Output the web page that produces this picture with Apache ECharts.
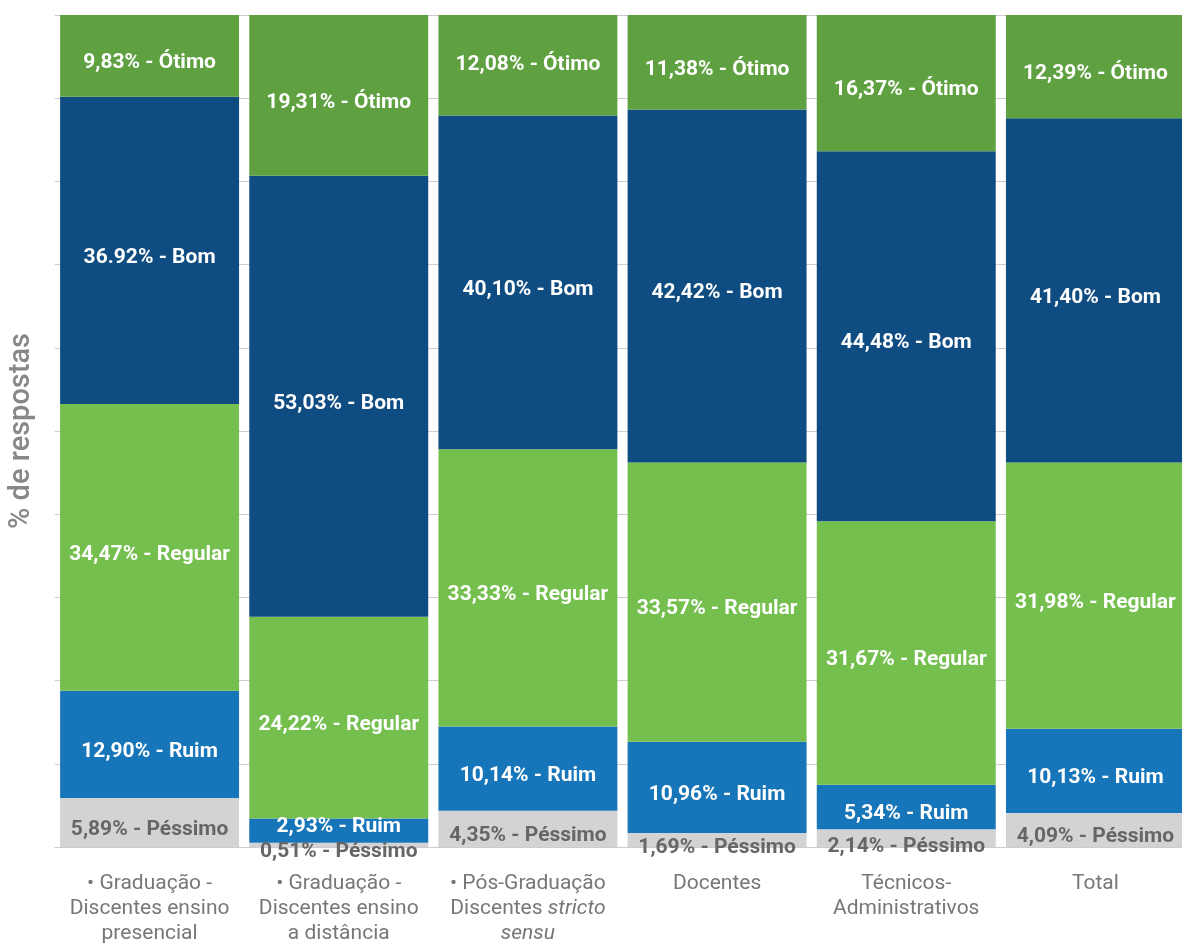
<!DOCTYPE html>
<html>
<head>
<meta charset="utf-8">
<script src="https://cdn.jsdelivr.net/npm/echarts@6/dist/echarts.min.js"></script>
<style>
  html, body { margin: 0; padding: 0; background: #fff; }
  #chart { width: 1182px; height: 943px; }
</style>
</head>
<body>
<div id="chart"></div>
<script>
// Avaliação por segmento (% de respostas)
const categories = [
  '• Graduação -\nDiscentes ensino\npresencial',
  '• Graduação -\nDiscentes ensino\na distância',
  '• Pós-Graduação\nDiscentes {i|stricto}\n{i|sensu}',
  'Docentes',
  'Técnicos-\nAdministrativos',
  'Total'
];
const pessimo = [5.89, 0.51, 4.35, 1.69, 2.14, 4.09];
const ruim    = [12.90, 2.93, 10.14, 10.96, 5.34, 10.13];
const regular = [34.47, 24.22, 33.33, 33.57, 31.67, 31.98];
const bom     = [36.92, 53.03, 40.10, 42.42, 44.48, 41.40];
const otimo   = [9.83, 19.31, 12.08, 11.38, 16.37, 12.39];
const yTicks  = [0, 10, 20, 30, 40, 50, 60, 70, 80, 90, 100];

// decimal separator used in each printed label (first "Bom" label is printed with a dot)
const bomSeparator = ['.', ',', ',', ',', ',', ','];

const FONT = 'Roboto';
const LABEL_SHIFT = 7;

function fmt(v, sep) {
  return v.toFixed(2).replace('.', sep || ',');
}

function makeSeries(name, values, color, labelColor, extraOffsets, seps) {
  return {
    name: name,
    type: 'bar',
    stack: 'total',
    barCategoryGap: '5.4%',
    itemStyle: { color: color },
    label: {
      show: true,
      position: 'inside',
      color: labelColor,
      fontFamily: FONT,
      fontWeight: 'bold',
      fontSize: 21,
      formatter: function (p) {
        return fmt(p.value, seps ? seps[p.dataIndex] : ',') + '% - ' + name;
      }
    },
    labelLayout: function (p) {
      const d = (extraOffsets && extraOffsets[p.dataIndex]) || 0;
      return { dy: LABEL_SHIFT + d };
    },
    emphasis: { disabled: true },
    data: values
  };
}

const chart = echarts.init(document.getElementById('chart'));
chart.setOption({
  animation: false,
  backgroundColor: '#ffffff',
  grid: { left: 55, width: 1135, top: 15, height: 832, containLabel: false, outerBoundsMode: 'none' },
  xAxis: {
    type: 'category',
    data: categories,
    axisLine: { show: true, lineStyle: { color: '#cccccc', width: 1 } },
    axisTick: { show: false },
    axisLabel: {
      interval: 0,
      margin: 24,
      color: '#777777',
      fontFamily: FONT,
      fontSize: 21,
      lineHeight: 25,
      rich: {
        i: { fontStyle: 'italic', color: '#777777', fontFamily: FONT, fontSize: 21, lineHeight: 25 }
      }
    }
  },
  yAxis: {
    type: 'value',
    min: yTicks[0],
    max: yTicks[yTicks.length - 1],
    interval: yTicks[1] - yTicks[0],
    name: '% de respostas',
    nameLocation: 'middle',
    nameGap: 19,
    nameTextStyle: { color: '#888888', fontFamily: FONT, fontSize: 29, fontWeight: 500 },
    axisLine: { show: false },
    axisTick: { show: false },
    axisLabel: { show: false },
    splitLine: { show: true, lineStyle: { color: '#cccccc', width: 1 } }
  },
  series: [
    makeSeries('Péssimo', pessimo, '#d2d3d5', '#666666', { 3: 1, 4: 2 }),
    makeSeries('Ruim', ruim, '#1775b9', '#ffffff', { 1: -11 }),
    makeSeries('Regular', regular, '#74bf4e', '#ffffff'),
    makeSeries('Bom', bom, '#0f4c81', '#ffffff', null, bomSeparator),
    makeSeries('Ótimo', otimo, '#5fa041', '#ffffff', { 2: -8 })
  ]
});
</script>
</body>
</html>
